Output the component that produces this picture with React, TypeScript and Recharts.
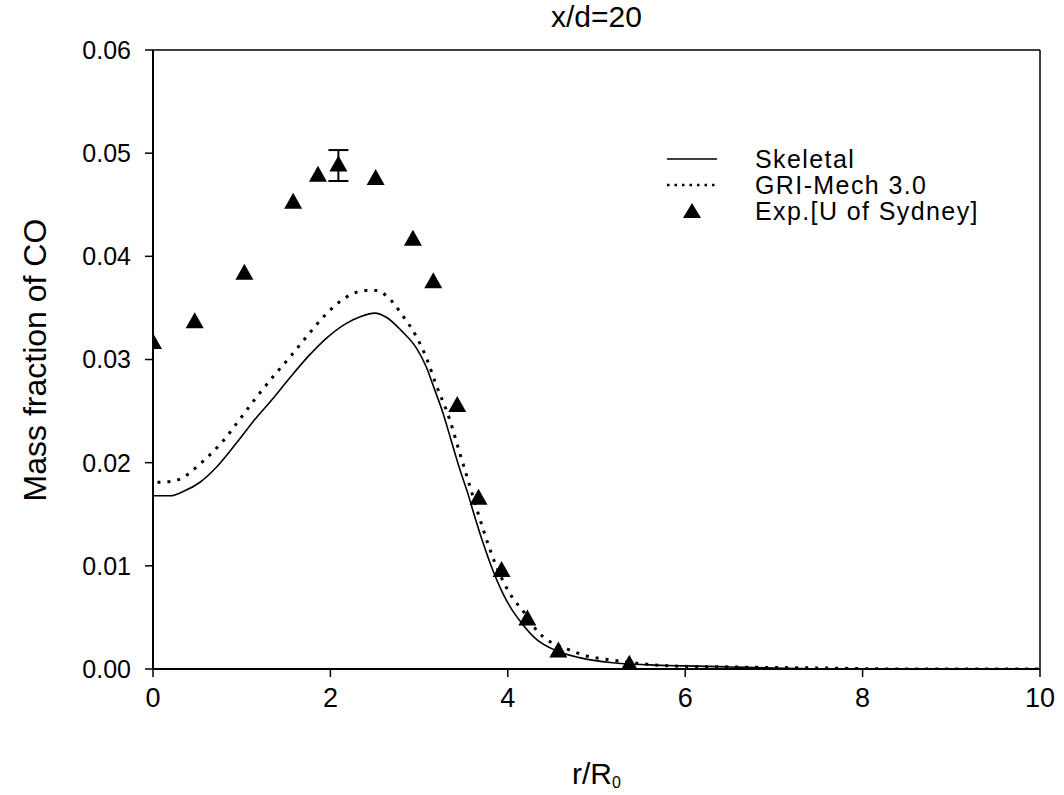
import React from 'react'
import {
  ComposedChart,
  Line,
  Scatter,
  XAxis,
  YAxis,
  ReferenceLine,
  ErrorBar,
  Legend,
} from 'recharts'

// CO mass fraction vs r/R0 at x/d=20
const skeletalR = [0, 0.2, 0.34, 0.53, 0.72, 0.94, 1.13, 1.36, 1.55, 1.75, 1.96, 2.18, 2.35, 2.5, 2.63, 2.8, 2.97, 3.08, 3.17, 3.27, 3.36, 3.45, 3.55, 3.64, 3.73, 3.83, 3.94, 4.05, 4.17, 4.32, 4.54, 4.81, 5.18, 5.6, 6.0, 6.5, 7.0, 8.0, 10]
const skeletalCO = [0.0168, 0.0168, 0.0172, 0.0181, 0.0196, 0.0219, 0.024, 0.0263, 0.0283, 0.0303, 0.0321, 0.0335, 0.0342, 0.0345, 0.0341, 0.0328, 0.0311, 0.0293, 0.0272, 0.0248, 0.0222, 0.0196, 0.017, 0.0144, 0.012, 0.0096, 0.0074, 0.0057, 0.0043, 0.0029, 0.0018, 0.0011, 0.0006, 0.0004, 0.0003, 0.0002, 0.0001, 0, 0]

const griR = [0.05, 0.21, 0.33, 0.44, 0.56, 0.67, 0.78, 0.96, 1.19, 1.37, 1.56, 1.74, 1.94, 2.17, 2.4, 2.52, 2.64, 2.82, 2.97, 3.08, 3.19, 3.34, 3.47, 3.57, 3.72, 3.85, 4.01, 4.2, 4.33, 4.45, 4.68, 4.92, 5.15, 5.52, 5.83, 6.5, 7.5, 8.5, 10]
const griCO = [0.0181, 0.0182, 0.0185, 0.0192, 0.0201, 0.021, 0.022, 0.024, 0.0266, 0.0285, 0.0304, 0.0323, 0.0343, 0.036, 0.0367, 0.0367, 0.0361, 0.0342, 0.0322, 0.0302, 0.0276, 0.0243, 0.0206, 0.0178, 0.0136, 0.0104, 0.0075, 0.0053, 0.0037, 0.0028, 0.0019, 0.0012, 0.0009, 0.0005, 0.0003, 0.0002, 0.0001, 0, 0]

const expR = [0, 0.47, 1.03, 1.58, 1.86, 2.09, 2.51, 2.93, 3.16, 3.43, 3.67, 3.93, 4.22, 4.57, 5.37]
const expCO = [0.0316, 0.0336, 0.0383, 0.0452, 0.0478, 0.0488, 0.0475, 0.0416, 0.0375, 0.0255, 0.0165, 0.0095, 0.0048, 0.0017, 0.0004]
const expErr = [0, 0, 0, 0, 0, 0.0015, 0, 0, 0, 0, 0, 0, 0, 0, 0]

const xTicks = [0, 2, 4, 6, 8, 10]
const yTicks = [0, 0.01, 0.02, 0.03, 0.04, 0.05, 0.06]

const legendItems = [
  { name: 'Skeletal', kind: 'solid' },
  { name: 'GRI-Mech 3.0', kind: 'dotted' },
  { name: 'Exp.[U of Sydney]', kind: 'triangle' },
]

const FONT = '"Liberation Sans", Arial, sans-serif'

const skeletal = skeletalR.map((x, i) => ({ x, y: skeletalCO[i] }))
const gri = griR.map((x, i) => ({ x, y: griCO[i] }))
const exp = expR.map((x, i) => ({ x, y: expCO[i], err: expErr[i] }))
const expWithErr = exp.filter((d) => d.err > 0)

function Triangle(props: any) {
  const { cx, cy } = props
  if (cx == null || cy == null) return <g />
  return <polygon points={`${cx},${cy - 10} ${cx - 9},${cy + 6} ${cx + 9},${cy + 6}`} fill="#000" />
}

function LegendBox() {
  return (
    <div style={{ fontFamily: FONT, fontSize: 25, letterSpacing: 1.4, color: '#000' }}>
      {legendItems.map((it) => (
        <div key={it.name} style={{ display: 'flex', alignItems: 'center', height: 26, lineHeight: '26px' }}>
          <svg width={60} height={20} style={{ marginRight: 30 }}>
            {it.kind === 'solid' && <line x1={2} y1={10} x2={52} y2={10} stroke="#000" strokeWidth={1.5} />}
            {it.kind === 'dotted' && (
              <line x1={2} y1={10} x2={52} y2={10} stroke="#000" strokeWidth={2.5} strokeDasharray="2.5 5" />
            )}
            {it.kind === 'triangle' && <polygon points="27,2 18,17 36,17" fill="#000" />}
          </svg>
          <span>{it.name}</span>
        </div>
      ))}
    </div>
  )
}

export default function App() {
  const xTick = { fontSize: 27, fill: '#000', fontFamily: FONT }
  const yTick = { fontSize: 25, fill: '#000', fontFamily: FONT }
  return (
    <div style={{ position: 'absolute', top: 0, left: 0, width: 1064, height: 795, background: '#fff', fontFamily: FONT }}>
      <ComposedChart width={1064} height={795} margin={{ top: 50, right: 24, bottom: 66, left: 58 }}>
        <XAxis
          type="number"
          dataKey="x"
          domain={[0, 10]}
          ticks={xTicks}
          allowDataOverflow
          tick={xTick}
          tickSize={8}
          tickMargin={11}
          height={60}
          axisLine={{ stroke: '#000', strokeWidth: 2 }}
          tickLine={{ stroke: '#000', strokeWidth: 1.5 }}
        />
        <YAxis
          type="number"
          dataKey="y"
          domain={[0, 0.06]}
          ticks={yTicks}
          allowDataOverflow
          tickFormatter={(v: number) => v.toFixed(2)}
          tick={yTick}
          tickSize={8}
          tickMargin={14}
          width={95}
          axisLine={{ stroke: '#000', strokeWidth: 2 }}
          tickLine={{ stroke: '#000', strokeWidth: 1.5 }}
        />
        <ReferenceLine y={0.06} stroke="#000" strokeWidth={1.5} />
        <ReferenceLine x={10} stroke="#000" strokeWidth={1.5} />
        <Line
          data={skeletal}
          dataKey="y"
          name="Skeletal"
          type="monotone"
          stroke="#000"
          strokeWidth={1.6}
          dot={false}
          isAnimationActive={false}
        />
        <Line
          data={gri}
          dataKey="y"
          name="GRI-Mech 3.0"
          type="monotone"
          stroke="#000"
          strokeWidth={3}
          strokeDasharray="3 7"
          dot={false}
          isAnimationActive={false}
        />
        <Scatter data={expWithErr} dataKey="y" shape={() => <g />} legendType="none" isAnimationActive={false}>
          <ErrorBar dataKey="err" direction="y" width={10} stroke="#000" strokeWidth={2} />
        </Scatter>
        <Scatter data={exp} dataKey="y" name="Exp.[U of Sydney]" shape={<Triangle />} isAnimationActive={false} />
        <Legend
          layout="vertical"
          align="center"
          verticalAlign="middle"
          content={() => <LegendBox />}
          wrapperStyle={{ position: 'absolute', top: 146, left: 665, width: 380 }}
        />
      </ComposedChart>
      <div
        style={{
          position: 'absolute',
          zIndex: 2,
          top: 0,
          left: 153,
          width: 887,
          textAlign: 'center',
          fontSize: 30,
          lineHeight: '34px',
          color: '#000',
        }}
      >
        x/d=20
      </div>
      <div
        style={{
          position: 'absolute',
          zIndex: 2,
          left: 35,
          top: 360,
          transform: 'translate(-50%, -50%) rotate(-90deg)',
          whiteSpace: 'nowrap',
          fontSize: 32,
          lineHeight: '36px',
          color: '#000',
        }}
      >
        Mass fraction of CO
      </div>
      <div
        style={{
          position: 'absolute',
          zIndex: 2,
          left: 153,
          width: 887,
          top: 757,
          textAlign: 'center',
          fontSize: 30,
          lineHeight: '34px',
          color: '#000',
        }}
      >
        r/R<span style={{ fontSize: 16, verticalAlign: -4 }}>0</span>
      </div>
    </div>
  )
}
